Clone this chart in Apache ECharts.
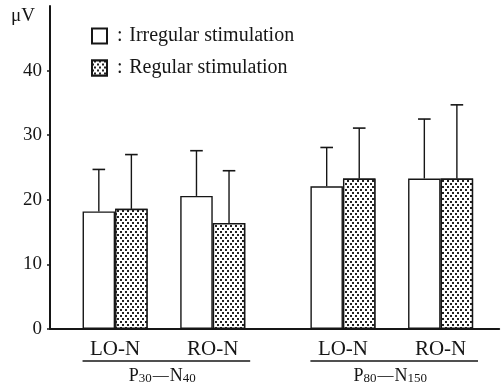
<!DOCTYPE html>
<html><head><meta charset="utf-8">
<script src="https://cdn.jsdelivr.net/npm/echarts@6/dist/echarts.min.js"></script>
<style>html,body{margin:0;padding:0;background:#fff}#c{width:503px;height:387px}</style>
</head><body><div id="c"></div>
<script>
// ---- data ----
const categories = ['LO-N', 'RO-N', 'LO-N', 'RO-N'];
const groupLabels = [['P', '30', 'N', '40'], ['P', '80', 'N', '150']];
const seriesNames = ['Irregular stimulation', 'Regular stimulation'];
const irregularMean = [18.2, 20.6, 22.1, 23.3];
const irregularSD = [6.5, 7.0, 6.0, 9.2];
const regularMean = [18.6, 16.4, 23.3, 23.3];
const regularSD = [8.4, 8.1, 7.8, 11.4];
const yTicks = [0, 10, 20, 30, 40];
const yUnit = 'μV';

// ---- layout (x positions on a unit scale where one bar = 1 unit) ----
const pairCenters = [2, 5, 9, 12];
const groupOf = [0, 0, 1, 1];
const INK = '#161616';
const FONT = '"Liberation Serif", "DejaVu Serif", serif';

const chart = echarts.init(document.getElementById('c'), null, {renderer: 'canvas'});

function errData(means, sds, off) {
  return means.map((m, i) => [pairCenters[i] + off, m, m + sds[i]]);
}
const groupSpans = groupLabels.map((g, gi) => {
  const idx = pairCenters.map((c, i) => i).filter(i => groupOf[i] === gi);
  return [pairCenters[idx[0]] - 1, pairCenters[idx[idx.length - 1]] + 1.15, gi];
});

const option = {
  animation: false,
  backgroundColor: '#fff',
  grid: {left: 50, right: 3.8, top: 6, bottom: 58, containLabel: false},
  legend: {
    data: seriesNames,
    orient: 'vertical', left: 91, top: 26, padding: 0,
    itemWidth: 15, itemHeight: 15, itemGap: 12, icon: 'rect',
    formatter: n => ' : \u200A' + n,
    textStyle: {fontFamily: FONT, fontSize: 20, color: INK},
    selectedMode: false
  },
  xAxis: {
    type: 'value', min: 0, max: 13.8,
    axisLine: {show: true, onZero: false, lineStyle: {color: INK, width: 2}},
    axisTick: {show: false},
    splitLine: {show: false},
    axisLabel: {
      customValues: pairCenters,
      formatter: v => { const i = pairCenters.indexOf(v); return i >= 0 ? categories[i] : ''; },
      fontFamily: FONT, fontSize: 21, color: INK, margin: 10
    }
  },
  yAxis: {
    type: 'value', min: 0, max: 50,
    name: yUnit, nameLocation: 'end', nameGap: -10,
    nameTextStyle: {fontFamily: FONT, fontSize: 19, color: INK, align: 'right', verticalAlign: 'middle', padding: [0, 15, 0, 0]},
    axisLine: {show: true, lineStyle: {color: INK, width: 2}},
    axisTick: {show: true, customValues: yTicks, length: 3, inside: false, lineStyle: {color: INK, width: 1.5}},
    splitLine: {show: false},
    axisLabel: {customValues: yTicks, fontFamily: FONT, fontSize: 19, color: INK, margin: 8}
  },
  series: [
    {
      type: 'bar', name: seriesNames[0],
      data: irregularMean.map((v, i) => [pairCenters[i] - 0.5, v]),
      barWidth: 32.5, barGap: '-100%',
      itemStyle: {color: '#fff', borderColor: INK, borderWidth: 1.4}
    },
    {
      type: 'bar', name: seriesNames[1],
      data: regularMean.map((v, i) => [pairCenters[i] + 0.5, v]),
      barWidth: 32.5, barGap: '-100%',
      itemStyle: {
        color: '#fff', borderColor: INK, borderWidth: 1.4,
        decal: {symbol: 'rect', symbolSize: 1, color: '#222', backgroundColor: '#fff',
                dashArrayX: [[1.5, 2.5], [0, 2, 1.5, 0.5]], dashArrayY: [1.5, 0.5]}
      }
    },
    {
      type: 'custom', name: 'errors', silent: true, z: 3,
      data: errData(irregularMean, irregularSD, -0.5).concat(errData(regularMean, regularSD, 0.5)),
      renderItem: (params, api) => {
        const p0 = api.coord([api.value(0), api.value(1)]);
        const p1 = api.coord([api.value(0), api.value(2)]);
        const hw = 6.3;
        return {type: 'group', children: [
          {type: 'line', shape: {x1: p0[0], y1: p0[1], x2: p1[0], y2: p1[1]}, style: {stroke: INK, lineWidth: 1.4}},
          {type: 'line', shape: {x1: p1[0] - hw, y1: p1[1], x2: p1[0] + hw, y2: p1[1]}, style: {stroke: INK, lineWidth: 1.6}}
        ]};
      }
    },
    {
      type: 'custom', name: 'groups', silent: true, clip: false,
      data: groupSpans,
      renderItem: (params, api) => {
        const a = api.coord([api.value(0), 0]);
        const b = api.coord([api.value(1), 0]);
        const g = groupLabels[api.value(2)];
        const y = a[1] + 32;
        return {type: 'group', children: [
          {type: 'line', shape: {x1: a[0], y1: y, x2: b[0], y2: y}, style: {stroke: INK, lineWidth: 1.3}},
          {type: 'text', x: (a[0] + b[0]) / 2 - 4, y: y + 15,
           style: {
             text: g[0] + '{s|' + g[1] + '}{d|—}' + g[2] + '{s|' + g[3] + '}',
             align: 'center', verticalAlign: 'middle',
             fontFamily: FONT, fontSize: 18, fill: INK,
             rich: {
               s: {fontFamily: FONT, fontSize: 13, fill: INK, verticalAlign: 'bottom', padding: [6, 0, 0, 0]},
               d: {fontFamily: FONT, fontSize: 16, fill: INK, padding: [0, 1, 0, 1]}
             }
           }}
        ]};
      }
    }
  ]
};
chart.setOption(option);
</script>
</body></html>
